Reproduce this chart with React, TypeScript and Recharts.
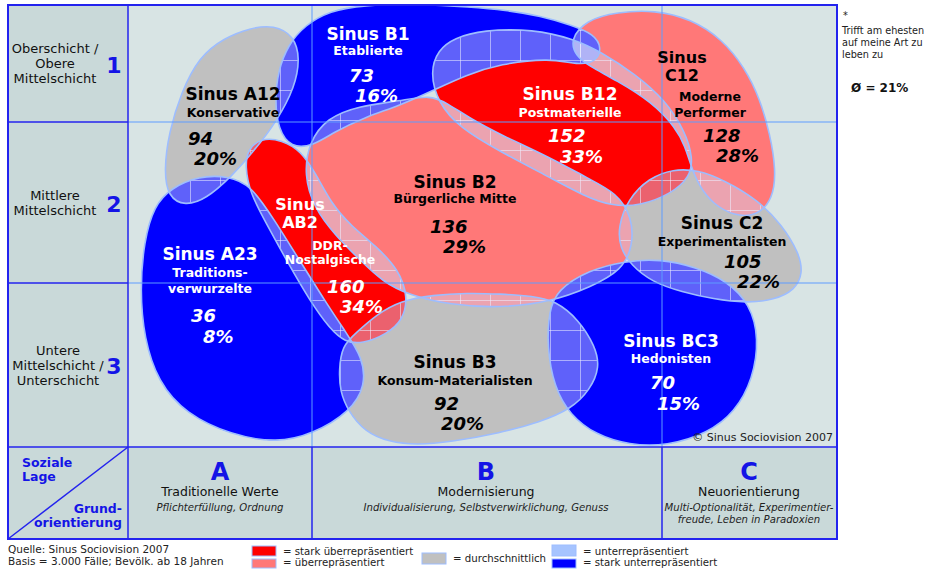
import React from 'react'
import { ScatterChart, Scatter, XAxis, YAxis, Curve } from 'recharts'

const FONT = '"DejaVu Sans", Verdana, sans-serif'
const FIG_W = 931
const FIG_H = 571

// frame of the milieu map; chart units are figure pixels
const FRAME = { left: 8, top: 5, right: 837, bottom: 539 }
const LAGE_COL = 128
const COL_LINES = [312, 662]
const ROW_LINES = [122, 283]
const AXIS_ROW = 447

const STRONG = '#2323ee'
const LIGHT = '#5f9cff'
const EDGE = '#9dbdff'

// milieus, in drawing order (grey, red, pink, blue)
const milieuIds = ['A12', 'C2', 'B3', 'B12', 'AB2', 'B2', 'C12', 'B1', 'A23', 'BC3']
const milieuNames = [
  ['Konservative'],
  ['Experimentalisten'],
  ['Konsum-Materialisten'],
  ['Postmaterielle'],
  ['DDR-', 'Nostalgische'],
  ['Bürgerliche Mitte'],
  ['Moderne', 'Performer'],
  ['Etablierte'],
  ['Traditions-', 'verwurzelte'],
  ['Hedonisten'],
]
const milieuIndex = [94, 105, 92, 152, 160, 136, 128, 73, 36, 70]
const milieuShare = [20, 22, 20, 33, 34, 29, 28, 16, 8, 15]
const milieuLevel = ['avg', 'avg', 'avg', 'strongOver', 'strongOver', 'over', 'over', 'strongUnder', 'strongUnder', 'strongUnder']

const levelKeys = ['strongOver', 'over', 'avg', 'under', 'strongUnder']
const levelLabels = ['= stark überrepräsentiert', '= überrepräsentiert', '= durchschnittlich', '= unterrepräsentiert', '= stark unterrepräsentiert']
const levelColors: Record<string, string> = {
  strongOver: '#ff0000',
  over: '#ff7878',
  avg: '#c0c0c0',
  under: '#a6c4ff',
  strongUnder: '#0000ff',
}

// outlines of the milieu shapes
const outlineA12 = [[199, 57], [224, 38], [250, 28], [274, 25], [294, 36], [300, 58], [295, 87], [277, 121], [254, 151], [231, 177], [206, 199], [185, 206], [168, 197], [164, 170], [169, 132], [181, 93]]
const outlineC2 = [[618, 227], [628, 199], [649, 178], [673, 169], [698, 170], [724, 180], [758, 200], [782, 225], [799, 253], [803, 273], [795, 290], [774, 300], [747, 303], [713, 299], [682, 292], [652, 282], [631, 265], [620, 248]]
const outlineB3 = [[339, 370], [342, 346], [356, 333], [376, 315], [400, 301], [433, 295], [467, 293], [500, 294], [533, 296], [556, 301], [579, 320], [595, 346], [600, 367], [590, 390], [571, 409], [540, 422], [500, 433], [450, 442], [417, 445], [389, 442], [365, 432], [348, 411], [340, 391]]
const outlineB12 = [[430, 72], [438, 50], [454, 38], [483, 30], [533, 29], [574, 39], [601, 52], [635, 74], [665, 100], [685, 131], [693, 158], [690, 177], [671, 194], [640, 206], [611, 206], [584, 196], [549, 177], [499, 151], [460, 128], [438, 103]]
const outlineAB2 = [[261, 138], [282, 140], [301, 151], [316, 174], [331, 203], [351, 226], [376, 246], [399, 270], [408, 297], [403, 320], [387, 334], [362, 344], [345, 342], [330, 329], [310, 301], [288, 263], [266, 223], [250, 193], [245, 166], [248, 149]]
const outlineB2 = [[309, 142], [327, 118], [358, 106], [400, 101], [430, 95], [447, 103], [471, 119], [501, 135], [551, 158], [587, 178], [617, 193], [632, 217], [633, 246], [622, 270], [591, 287], [550, 302], [500, 308], [450, 305], [409, 295], [383, 282], [360, 260], [335, 235], [314, 208], [304, 175]]
const outlineC12 = [[570, 40], [586, 20], [617, 12], [655, 10], [691, 19], [722, 39], [745, 68], [760, 99], [770, 134], [776, 170], [773, 199], [757, 216], [734, 216], [713, 204], [699, 186], [691, 166], [685, 146], [676, 128], [652, 102], [616, 80], [589, 66], [576, 56]]
const outlineB1 = [[275, 100], [278, 71], [288, 45], [305, 25], [330, 11], [362, 5], [420, 4], [470, 7], [505, 10], [541, 16], [571, 25], [594, 34], [602, 48], [596, 62], [578, 65], [550, 58], [500, 64], [466, 75], [434, 90], [401, 105], [363, 118], [334, 132], [313, 146], [291, 148], [278, 129]]
const outlineA23 = [[199, 176], [228, 176], [251, 185], [275, 221], [300, 261], [325, 301], [347, 334], [362, 357], [366, 385], [350, 412], [313, 434], [277, 443], [231, 435], [186, 414], [158, 382], [144, 338], [140, 290], [144, 241], [154, 206], [171, 188]]
const outlineBC3 = [[557, 290], [589, 270], [625, 261], [660, 259], [696, 267], [727, 281], [750, 304], [759, 338], [753, 379], [735, 412], [708, 433], [667, 446], [629, 445], [596, 435], [570, 415], [554, 387], [547, 346], [549, 311]]

const outlines: Record<string, number[][]> = {
  A12: outlineA12, C2: outlineC2, B3: outlineB3, B12: outlineB12, AB2: outlineAB2,
  B2: outlineB2, C12: outlineC12, B1: outlineB1, A23: outlineA23, BC3: outlineBC3,
}

// where the texts of each milieu sit
const labelLayout: Record<string, { tx: number; ty: number[]; sx: number; sy: number[]; nx: number; ny: number; px: number; py: number }> = {
  A12: { tx: 233, ty: [100], sx: 233, sy: [117], nx: 188, ny: 145, px: 194, py: 165 },
  B1: { tx: 368, ty: [40], sx: 368, sy: [55], nx: 349, ny: 82, px: 355, py: 102 },
  C12: { tx: 682, ty: [63, 81], sx: 710, sy: [101, 117], nx: 703, ny: 142, px: 716, py: 162 },
  B12: { tx: 570, ty: [100], sx: 570, sy: [117], nx: 548, ny: 142, px: 560, py: 163 },
  B2: { tx: 455, ty: [188], sx: 455, sy: [203], nx: 430, ny: 233, px: 443, py: 253 },
  AB2: { tx: 300, ty: [210, 228], sx: 330, sy: [250, 264], nx: 327, ny: 293, px: 340, py: 313 },
  A23: { tx: 210, ty: [260], sx: 210, sy: [277, 293], nx: 191, ny: 322, px: 203, py: 343 },
  C2: { tx: 722, ty: [229], sx: 722, sy: [246], nx: 724, ny: 268, px: 737, py: 288 },
  B3: { tx: 455, ty: [368], sx: 455, sy: [385], nx: 434, ny: 410, px: 441, py: 430 },
  BC3: { tx: 671, ty: [347], sx: 671, sy: [363], nx: 650, ny: 389, px: 657, py: 410 },
}

const toPoints = (id: string) => outlines[id].map(([x, y]) => ({ x, y }))
const noDot = () => <g />

function fillLayer(i: number) {
  const id = milieuIds[i]
  return (p: any) => (
    <g>
      <defs>
        {i === 0 && (
          <pattern id="sinus-hatch" patternUnits="userSpaceOnUse" x={10} y={0} width={30} height={30}>
            <rect width={30} height={30} fill="#d4d8f4" fillOpacity={0.45} />
            <path d="M0 0.5H30M0.5 0V30" stroke="#eceeff" strokeOpacity={0.55} strokeWidth={1} />
          </pattern>
        )}
        <clipPath id={`sinus-clip-${id}`}>
          <Curve points={p.points} type="basisClosed" />
        </clipPath>
      </defs>
      <Curve points={p.points} type="basisClosed" fill={levelColors[milieuLevel[i]]} stroke="none" />
    </g>
  )
}

function overlapLayer(i: number) {
  return (p: any) => (
    <g>
      {milieuIds.slice(i + 1).map((other) => (
        <g key={other} clipPath={`url(#sinus-clip-${other})`}>
          <Curve points={p.points} type="basisClosed" fill="url(#sinus-hatch)" stroke="none" />
        </g>
      ))}
    </g>
  )
}

function MilieuLabel({ i }: { i: number }) {
  const id = milieuIds[i]
  const L = labelLayout[id]
  const level = milieuLevel[i]
  const c = level === 'strongOver' || level === 'strongUnder' ? '#ffffff' : '#000000'
  const split = L.ty.length > 1
  const title = split ? ['Sinus', id] : [`Sinus ${id}`]
  return (
    <g fill={c} fontFamily={FONT} fontWeight="bold">
      {title.map((t, k) => (
        <text key={'t' + k} x={L.tx} y={L.ty[k]} fontSize={split ? 16 : 17} textAnchor="middle">{t}</text>
      ))}
      {milieuNames[i].map((t, k) => (
        <text key={'s' + k} x={L.sx} y={L.sy[k]} fontSize={12.5} textAnchor="middle">{t}</text>
      ))}
      <text x={L.nx} y={L.ny} fontSize={18} fontStyle="italic">{milieuIndex[i]}</text>
      <text x={L.px} y={L.py} fontSize={18} fontStyle="italic">{milieuShare[i]}%</text>
    </g>
  )
}

const rowLabels = [
  { lines: ['Oberschicht /', 'Obere', 'Mittelschicht'], ys: [53, 68, 83], cx: 55, num: '1', ny: 73 },
  { lines: ['Mittlere', 'Mittelschicht'], ys: [200, 215], cx: 55, num: '2', ny: 212 },
  { lines: ['Untere', 'Mittelschicht /', 'Unterschicht'], ys: [355, 370, 385], cx: 58, num: '3', ny: 374 },
]

const colLabels = [
  { x: 220, letter: 'A', name: 'Traditionelle Werte', desc: ['Pflichterfüllung, Ordnung'] },
  { x: 486, letter: 'B', name: 'Modernisierung', desc: ['Individualisierung, Selbstverwirklichung, Genuss'] },
  { x: 749, letter: 'C', name: 'Neuorientierung', desc: ['Multi-Optionalität, Experimentier-', 'freude, Leben in Paradoxien'] },
]

export default function App() {
  const plotW = FRAME.right - LAGE_COL
  return (
    <div style={{ position: 'absolute', left: 0, top: 0, width: FIG_W, height: FIG_H, background: '#ffffff' }}>
      <div style={{ position: 'absolute', left: FRAME.left, top: FRAME.top, width: LAGE_COL - FRAME.left, height: AXIS_ROW - FRAME.top, background: '#c9d9d9' }} />
      <div style={{ position: 'absolute', left: FRAME.left, top: AXIS_ROW, width: FRAME.right - FRAME.left, height: FRAME.bottom - AXIS_ROW, background: '#c9d9d9' }} />
      <div style={{ position: 'absolute', left: LAGE_COL, top: FRAME.top, width: plotW, height: AXIS_ROW - FRAME.top, background: '#d8e4e4' }} />

      <div style={{ position: 'absolute', left: 0, top: 0 }}>
        <ScatterChart width={FIG_W} height={FIG_H} margin={{ top: FRAME.top, right: FIG_W - FRAME.right, bottom: FIG_H - FRAME.bottom, left: FRAME.left }}>
          <XAxis type="number" dataKey="x" domain={[FRAME.left, FRAME.right]} hide allowDataOverflow />
          <YAxis type="number" dataKey="y" domain={[FRAME.top, FRAME.bottom]} reversed hide allowDataOverflow />
          {milieuIds.map((id, i) => (
            <Scatter key={'fill-' + id} name={id} data={toPoints(id)} shape={noDot} line={fillLayer(i)} lineType="joint" legendType="none" isAnimationActive={false} />
          ))}
          {milieuIds.map((id, i) => (
            <Scatter key={'hatch-' + id} name={id + ' overlap'} data={toPoints(id)} shape={noDot} line={overlapLayer(i)} lineType="joint" legendType="none" isAnimationActive={false} />
          ))}
          {milieuIds.map((id) => (
            <Scatter key={'edge-' + id} name={id + ' edge'} data={toPoints(id)} shape={noDot} line={{ stroke: EDGE, strokeWidth: 1.6, fill: 'none' }} lineType="joint" lineJointType="basisClosed" legendType="none" isAnimationActive={false} />
          ))}
        </ScatterChart>
      </div>

      <svg width={FIG_W} height={FIG_H} style={{ position: 'absolute', left: 0, top: 0, pointerEvents: 'none' }} fontFamily={FONT}>
        {/* grid of the map */}
        {ROW_LINES.map((y) => (
          <g key={'r' + y}>
            <line x1={LAGE_COL} x2={FRAME.right} y1={y} y2={y} stroke={LIGHT} strokeWidth={1} />
            <line x1={FRAME.left} x2={LAGE_COL} y1={y} y2={y} stroke={STRONG} strokeWidth={1.5} />
          </g>
        ))}
        {COL_LINES.map((x) => (
          <g key={'c' + x}>
            <line x1={x} x2={x} y1={FRAME.top} y2={AXIS_ROW} stroke={LIGHT} strokeWidth={1} />
            <line x1={x} x2={x} y1={AXIS_ROW} y2={FRAME.bottom} stroke={STRONG} strokeWidth={1.5} />
          </g>
        ))}
        <line x1={LAGE_COL} x2={LAGE_COL} y1={FRAME.top} y2={FRAME.bottom} stroke={STRONG} strokeWidth={1.5} />
        <line x1={FRAME.left} x2={FRAME.right} y1={AXIS_ROW} y2={AXIS_ROW} stroke={STRONG} strokeWidth={1.5} />
        <line x1={FRAME.left} y1={FRAME.bottom} x2={LAGE_COL} y2={AXIS_ROW} stroke={STRONG} strokeWidth={1.5} />
        <rect x={FRAME.left} y={FRAME.top} width={FRAME.right - FRAME.left} height={FRAME.bottom - FRAME.top} fill="none" stroke={STRONG} strokeWidth={2} />

        {milieuIds.map((id, i) => <MilieuLabel key={id} i={i} />)}

        {/* soziale Lage */}
        {rowLabels.map((r) => (
          <g key={r.num}>
            {r.lines.map((t, k) => (
              <text key={k} x={r.cx} y={r.ys[k]} fontSize={13} textAnchor="middle" fill="#111">{t}</text>
            ))}
            <text x={114} y={r.ny} fontSize={22} fontWeight="bold" textAnchor="middle" fill="#1414e6">{r.num}</text>
          </g>
        ))}
        <g fill="#1414e6" fontWeight="bold" fontSize={12.5}>
          <text x={22} y={467}>Soziale</text>
          <text x={22} y={481}>Lage</text>
          <text x={122} y={513} textAnchor="end">Grund-</text>
          <text x={122} y={527} textAnchor="end">orientierung</text>
        </g>

        {/* Grundorientierung */}
        {colLabels.map((c) => (
          <g key={c.letter} textAnchor="middle">
            <text x={c.x} y={480} fontSize={24} fontWeight="bold" fill="#1414e6">{c.letter}</text>
            <text x={c.x} y={496} fontSize={12.5} fill="#111">{c.name}</text>
            {c.desc.map((d, k) => (
              <text key={k} x={c.x} y={511 + k * 12} fontSize={10.1} fontStyle="italic" fill="#222">{d}</text>
            ))}
          </g>
        ))}

        <text x={833} y={441} fontSize={11} textAnchor="end" fill="#222">© Sinus Sociovision 2007</text>

        {/* note on the right */}
        <g fontSize={9.7} fill="#222">
          <text x={843} y={19}>*</text>
          <text x={842} y={34}>Trifft am ehesten</text>
          <text x={842} y={46}>auf meine Art zu</text>
          <text x={842} y={58}>leben zu</text>
        </g>
        <text x={851} y={92} fontSize={12} fontWeight="bold" fill="#111">Ø = 21%</text>

        {/* source and colour key */}
        <g fontSize={10.5} fill="#222">
          <text x={8} y={553}>Quelle: Sinus Sociovision 2007</text>
          <text x={8} y={565}>Basis = 3.000 Fälle; Bevölk. ab 18 Jahren</text>
        </g>
        {levelKeys.map((k, i) => {
          const pos = [
            { x: 252, y: 546, h: 10, tx: 283, ty: 555 },
            { x: 252, y: 559, h: 9, tx: 283, ty: 566 },
            { x: 422, y: 553, h: 11, tx: 453, ty: 562 },
            { x: 552, y: 545, h: 11, tx: 583, ty: 555 },
            { x: 552, y: 559, h: 9, tx: 583, ty: 566 },
          ][i]
          return (
            <g key={k}>
              <rect x={pos.x} y={pos.y} width={24} height={pos.h} fill={levelColors[k]} stroke={EDGE} strokeWidth={1} />
              <text x={pos.tx} y={pos.ty} fontSize={10.2} fill="#222">{levelLabels[i]}</text>
            </g>
          )
        })}
      </svg>
    </div>
  )
}
